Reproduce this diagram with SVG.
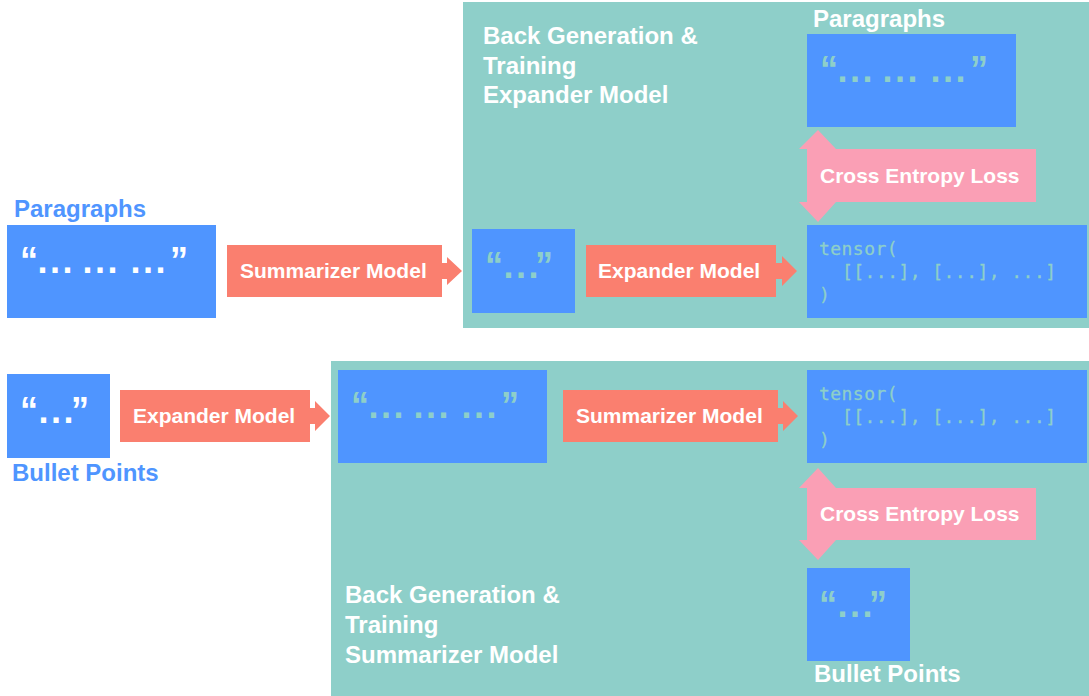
<svg xmlns="http://www.w3.org/2000/svg" width="1089" height="696" viewBox="0 0 1089 696">
<style>
.panel{fill:#8ECFC9}
.box{fill:#4F95FF}
.arrow{fill:#FA7F6F}
.loss{fill:#FA9FB5}
.lbl{font-family:"Liberation Sans",Arial,sans-serif;font-weight:bold;font-size:21px;fill:#fff}
.title{font-family:"Liberation Sans",Arial,sans-serif;font-weight:bold;font-size:24px;fill:#fff}
.cap{font-family:"Liberation Sans",Arial,sans-serif;font-weight:bold;font-size:24px}
.q{font-family:"Liberation Sans",Arial,sans-serif;font-weight:bold;font-size:36px}
.dots{letter-spacing:2.5px}
.w{fill:#fff}
.t{fill:#8ECFC9}
.b{fill:#4F95FF}
.mono{font-family:"DejaVu Sans Mono","Liberation Mono",monospace;font-size:18px;letter-spacing:0.45px;fill:#8ECFC9;stroke:#8ECFC9;stroke-width:0.3px}
</style>
<rect width="1089" height="696" fill="#fff"/>

<g id="panel-top">
<rect class="panel" x="463" y="2" width="626" height="326"/>
<text class="title" x="483" y="44">Back Generation &amp;</text>
<text class="title" x="483" y="74">Training</text>
<text class="title" x="483" y="103">Expander Model</text>
</g>
<g id="panel-bottom">
<rect class="panel" x="331" y="361" width="758" height="335"/>
<text class="title" x="345" y="603">Back Generation &amp;</text>
<text class="title" x="345" y="633">Training</text>
<text class="title" x="345" y="663">Summarizer Model</text>
</g>

<g id="paragraphs-input">
<text class="cap b" x="14" y="217">Paragraphs</text>
<rect class="box" x="7" y="225" width="209" height="93"/>
<text class="q w" x="20" y="273">“</text>
<text class="q w dots" x="37.5" y="273">...</text>
<text class="q w dots" x="82.5" y="273">...</text>
<text class="q w dots" x="130.5" y="273">...</text>
<text class="q w" x="170" y="273">”</text>
</g>

<g id="summary-top">
<rect class="box" x="472" y="229" width="103" height="84"/>
<text class="q t" x="485" y="278">“</text>
<text class="q t dots" x="503.5" y="278">...</text>
<text class="q t" x="535" y="278">”</text>
</g>

<g id="tensor-top">
<rect class="box" x="807" y="225" width="280" height="93"/>
<text class="mono" x="819" y="255">tensor(</text>
<text class="mono" x="842" y="278">[[...], [...], ...]</text>
<text class="mono" x="819" y="301">)</text>
</g>

<g id="paragraphs-target">
<text class="cap w" x="813" y="27">Paragraphs</text>
<rect class="box" x="807" y="34" width="209" height="93"/>
<text class="q t" x="820" y="82">“</text>
<text class="q t dots" x="837.5" y="82">...</text>
<text class="q t dots" x="882.5" y="82">...</text>
<text class="q t dots" x="930.5" y="82">...</text>
<text class="q t" x="970" y="82">”</text>
</g>

<g id="bullets-input">
<rect class="box" x="7" y="374" width="103" height="84"/>
<text class="q w" x="20" y="423">“</text>
<text class="q w dots" x="38.5" y="423">...</text>
<text class="q w" x="71" y="423">”</text>
<text class="cap b" x="12" y="481">Bullet Points</text>
</g>

<g id="paragraphs-generated">
<rect class="box" x="338" y="370" width="209" height="93"/>
<text class="q t" x="351" y="418">“</text>
<text class="q t dots" x="368.5" y="418">...</text>
<text class="q t dots" x="413.5" y="418">...</text>
<text class="q t dots" x="461.5" y="418">...</text>
<text class="q t" x="501" y="418">”</text>
</g>

<g id="tensor-bottom">
<rect class="box" x="807" y="370" width="280" height="93"/>
<text class="mono" x="819" y="400">tensor(</text>
<text class="mono" x="842" y="423">[[...], [...], ...]</text>
<text class="mono" x="819" y="446">)</text>
</g>

<g id="bullets-target">
<rect class="box" x="807" y="568" width="103" height="93"/>
<text class="q t" x="819" y="617">“</text>
<text class="q t dots" x="837.5" y="617">...</text>
<text class="q t" x="869" y="617">”</text>
<text class="cap w" x="814" y="682">Bullet Points</text>
</g>

<g id="connectors">
<g id="arrow-summarizer-top">
<polygon class="arrow" points="227,245 442,245 442,263 447,263 447,257 462,271 447,285 447,279 442,279 442,297 227,297"/>
<text class="lbl" x="240" y="278">Summarizer Model</text>
</g>
<g id="arrow-expander-top">
<polygon class="arrow" points="586,245 776,245 776,263 782,263 782,256 797,271 782,286 782,279 776,279 776,297 586,297"/>
<text class="lbl" x="598" y="278">Expander Model</text>
</g>
<g id="arrow-expander-bottom">
<polygon class="arrow" points="120,390 310,390 310,408 315,408 315,401 330,416 315,431 315,424 310,424 310,442 120,442"/>
<text class="lbl" x="133" y="423">Expander Model</text>
</g>
<g id="arrow-summarizer-bottom">
<polygon class="arrow" points="563,390 778,390 778,408 783,408 783,401 798,416 783,431 783,424 778,424 778,442 563,442"/>
<text class="lbl" x="576" y="423">Summarizer Model</text>
</g>
<g id="loss-top">
<polygon class="loss" points="818,130 836,149 1036,149 1036,202 836,202 818,222 799,202 807,202 807,149 799,149"/>
<text class="lbl" x="820" y="183">Cross Entropy Loss</text>
</g>
<g id="loss-bottom">
<polygon class="loss" points="818,468 836,488 1036,488 1036,540 836,540 818,560 799,540 807,540 807,488 799,488"/>
<text class="lbl" x="820" y="521">Cross Entropy Loss</text>
</g>
</g>
</svg>
